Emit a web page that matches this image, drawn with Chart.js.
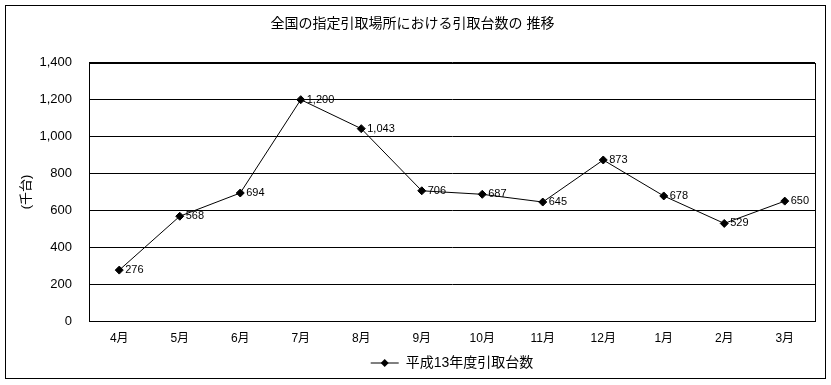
<!DOCTYPE html>
<html>
<head>
<meta charset="utf-8">
<script src="https://cdn.jsdelivr.net/npm/chart.js@4.4.1/dist/chart.umd.min.js"></script>
<style>
  html, body { margin: 0; padding: 0; background: #fff; }
  #wrap { width: 831px; height: 385px; position: relative; }
</style>
</head>
<body>
<div id="wrap"><canvas id="myChart"></canvas></div>
<script>
// datos del grafico
var meses = ['4月', '5月', '6月', '7月', '8月', '9月', '10月', '11月', '12月', '1月', '2月', '3月'];
var valores = [276, 568, 694, 1200, 1043, 706, 687, 645, 873, 678, 529, 650];
var nombreSerie = '平成13年度引取台数';
var titulo = '全国の指定引取場所における引取台数の 推移';
var tituloEje = '(千台)';

var fuente = '"Liberation Sans", "Noto Sans CJK JP", sans-serif';
Chart.defaults.font.family = fuente;
Chart.defaults.color = '#000';

// marcos, etiquetas de valores y rombo de la leyenda
var extras = {
    id: 'extras',
    afterDraw: function(chart) {
        var ctx = chart.ctx;
        var a = chart.chartArea;
        ctx.save();
        ctx.strokeStyle = '#000';
        ctx.lineWidth = 1;
        ctx.strokeRect(5.5, 5.5, 820, 373);
        ctx.strokeRect(Math.round(a.left) + 0.5, Math.round(a.top) + 0.5,
            Math.round(a.right - a.left), Math.round(a.bottom - a.top));

        // valores al lado de cada punto
        var meta = chart.getDatasetMeta(0);
        ctx.font = '11px ' + fuente;
        ctx.fillStyle = '#000';
        ctx.textAlign = 'left';
        ctx.textBaseline = 'middle';
        for (var i = 0; i < meta.data.length; i++) {
            var p = meta.data[i];
            ctx.fillText(valores[i].toLocaleString('en-US'), p.x + 6, p.y);
        }

        // rombo sobre la linea de la leyenda
        var hb = chart.legend.legendHitBoxes[0];
        if (hb) {
            var cx = hb.left + 14;
            var cy = hb.top + hb.height / 2;
            ctx.beginPath();
            ctx.moveTo(cx, cy - 4);
            ctx.lineTo(cx + 4, cy);
            ctx.lineTo(cx, cy + 4);
            ctx.lineTo(cx - 4, cy);
            ctx.closePath();
            ctx.fill();
        }
        ctx.restore();
    }
};

var ctx = document.getElementById('myChart').getContext('2d');
var myChart = new Chart(ctx, {
    type: 'line',
    data: {
        labels: meses,
        datasets: [{
            label: nombreSerie,
            data: valores,
            borderColor: '#000',
            backgroundColor: '#000',
            borderWidth: 1,
            pointStyle: 'rectRot',
            pointRadius: 4,
            pointBackgroundColor: '#000',
            pointBorderColor: '#000',
            tension: 0
        }]
    },
    options: {
        responsive: true,
        maintainAspectRatio: false,
        animation: false,
        locale: 'en-US',
        layout: { padding: { left: 10, right: 16, top: 5, bottom: 5 } },
        plugins: {
            title: {
                display: true,
                text: titulo,
                color: '#000',
                font: { size: 14, weight: 'normal' },
                padding: { top: 11, bottom: 30 }
            },
            legend: {
                position: 'bottom',
                fullSize: false,
                labels: {
                    usePointStyle: true,
                    pointStyle: 'line',
                    pointStyleWidth: 28,
                    padding: 5,
                    color: '#000',
                    font: { size: 14 }
                }
            },
            tooltip: { enabled: false }
        },
        scales: {
            x: {
                offset: true,
                grid: { display: false, drawTicks: false },
                border: { display: true, color: '#000' },
                ticks: { padding: 10, font: { size: 12 }, color: '#000' },
                afterFit: function(s) { s.height = 30; }
            },
            y: {
                min: 0,
                max: 1400,
                ticks: { stepSize: 200, padding: 17, font: { size: 13 }, color: '#000' },
                grid: { color: '#000', lineWidth: 1, drawTicks: false },
                border: { display: true, color: '#000' },
                title: {
                    display: true,
                    text: tituloEje,
                    color: '#000',
                    font: { size: 13 },
                    padding: { top: 9, bottom: 0 }
                },
                afterFit: function(s) { s.width = 79; }
            }
        }
    },
    plugins: [extras]
});
</script>
</body>
</html>
